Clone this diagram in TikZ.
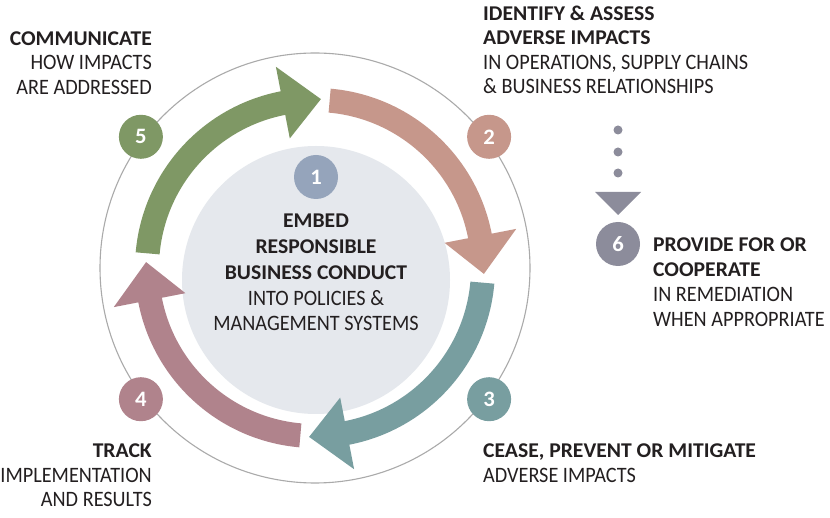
\documentclass[tikz,border=0pt]{standalone}
\usepackage{fontspec}
\setmainfont{Carlito}[FakeStretch=0.92, BoldFeatures={FakeStretch=1.03}]
\usetikzlibrary{calc}
\definecolor{cgreen}{RGB}{127,152,101}
\definecolor{cred}{RGB}{198,151,139}
\definecolor{cteal}{RGB}{120,158,160}
\definecolor{cpink}{RGB}{176,131,140}
\definecolor{cone}{RGB}{149,164,187}
\definecolor{csix}{RGB}{140,140,155}
\definecolor{innerfill}{RGB}{229,232,237}
\definecolor{linegray}{RGB}{170,170,170}
\definecolor{ink}{RGB}{35,31,32}
\begin{document}
\begin{tikzpicture}[x=1pt,y=1pt,
  txt/.style={font=\fontsize{22}{25}\selectfont, text=ink, inner sep=0pt},
  bt/.style={font=\fontsize{21}{25}\selectfont\bfseries, text=ink, inner sep=0pt},
  num/.style={circle, minimum size=44pt, inner sep=0pt, text=white, font=\fontsize{22}{22}\selectfont\bfseries},
  dotn/.style={circle, fill=csix, minimum size=9pt, inner sep=0pt}]
\useasboundingbox (0,0) rectangle (830,-518);
\fill[white] (0,0) rectangle (830,-518);
\coordinate (C) at (315,-268);
\node[draw=linegray, line width=1.1pt, circle, minimum size=430pt, inner sep=0pt] (outer) at (C) {};
\node[circle, fill=innerfill, minimum size=268pt, inner sep=0pt] (inner) at (316,-280) {};
\begin{scope}[shift={(C)}]
\foreach \a/\c in {175/cgreen, 85/cred, -5/cteal, -95/cpink}{
  \fill[\c] ({\a}:180pt) arc[start angle=\a, end angle=\a-74, radius=180pt]
    -- ({\a-74}:205pt) -- ({\a-87}:169pt) -- ({\a-74}:132pt) -- ({\a-74}:156pt)
    arc[start angle=\a-74, end angle=\a, radius=156pt] -- cycle;
}
\node[num, fill=cgreen] (n5) at (143:218pt) {5};
\node[num, fill=cred] (n2) at (37:218pt) {2};
\node[num, fill=cteal] (n3) at (-37:218pt) {3};
\node[num, fill=cpink] (n4) at (-143:218pt) {4};
\end{scope}
\node[num, fill=cone] (n1) at (316,-177) {1};
% center text
\node[bt, anchor=base] (e1) at (316,-228) {EMBED};
\node[bt, anchor=base] (e2) at (316,-254) {RESPONSIBLE};
\node[bt, anchor=base] (e3) at (316,-280) {BUSINESS CONDUCT};
\node[txt, anchor=base] (e4) at (316,-306) {INTO POLICIES \&};
\node[txt, anchor=base] (e5) at (316,-331) {MANAGEMENT SYSTEMS};
% block 5
\node[bt, anchor=base east] (c1) at (152,-45.5) {COMMUNICATE};
\node[txt, anchor=base east] (c2) at (152,-70) {HOW IMPACTS};
\node[txt, anchor=base east] (c3) at (152,-94.5) {ARE ADDRESSED};
% block 2
\node[bt, anchor=base west] (i1) at (483,-20.5) {IDENTIFY \& ASSESS};
\node[bt, anchor=base west] (i2) at (483,-45) {ADVERSE IMPACTS};
\node[txt, anchor=base west] (i3) at (483,-69.5) {IN OPERATIONS, SUPPLY CHAINS};
\node[txt, anchor=base west] (i4) at (483,-94) {\& BUSINESS RELATIONSHIPS};
% block 3
\node[bt, anchor=base west] (s1) at (483,-457) {CEASE, PREVENT OR MITIGATE};
\node[txt, anchor=base west] (s2) at (483,-482) {ADVERSE IMPACTS};
% block 4
\node[bt, anchor=base east] (t1) at (152,-457) {TRACK};
\node[txt, anchor=base east] (t2) at (152,-482) {IMPLEMENTATION};
\node[txt, anchor=base east] (t3) at (152,-506.5) {AND RESULTS};
% step 6
\node[dotn] (d1) at (618,-130) {};
\node[dotn] (d2) at (618,-152) {};
\node[dotn] (d3) at (618,-173) {};
\coordinate (tri) at (618,-192);
\fill[csix] ($(tri)+(-23,0)$) -- ($(tri)+(23,0)$) -- ($(tri)+(0,-23)$) -- cycle;
\node[num, fill=csix] (n6) at (618,-244) {6};
\node[bt, anchor=base west] (p1) at (653,-252) {PROVIDE FOR OR};
\node[bt, anchor=base west] (p2) at (653,-277) {COOPERATE};
\node[txt, anchor=base west] (p3) at (653,-302) {IN REMEDIATION};
\node[txt, anchor=base west] (p4) at (653,-327) {WHEN APPROPRIATE};
\end{tikzpicture}
\end{document}
